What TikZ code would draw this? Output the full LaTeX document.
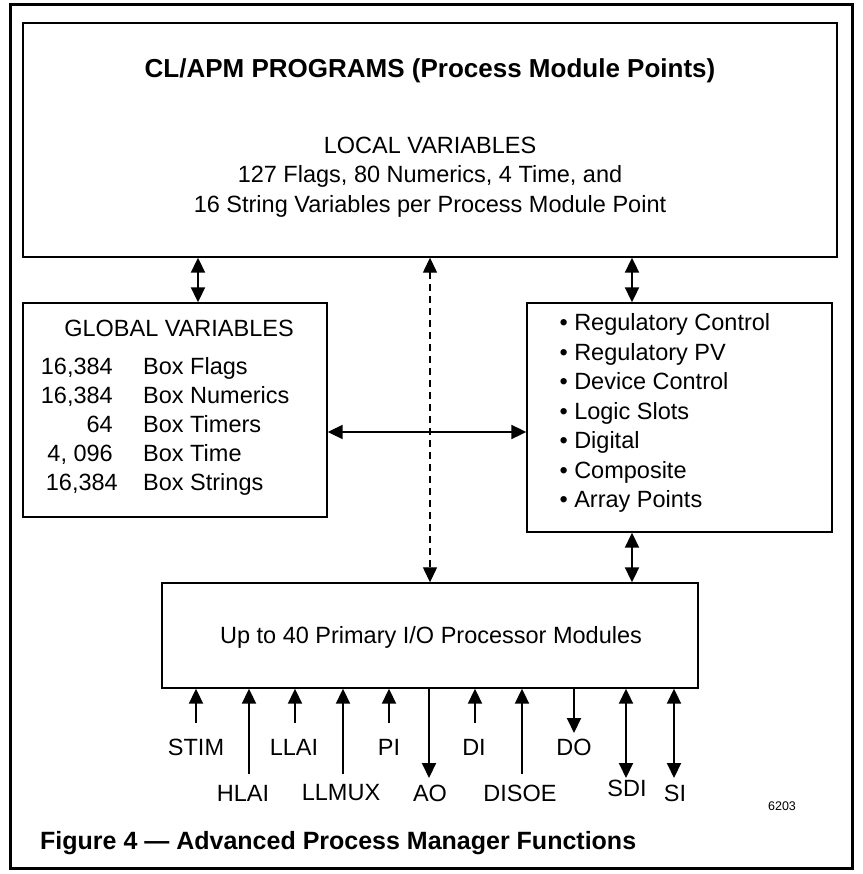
\documentclass[tikz,border=0pt]{standalone}
\usepackage{fontspec}
\setmainfont{Liberation Sans}
\usetikzlibrary{arrows.meta}

\begin{document}
\begin{tikzpicture}[x=1pt, y=-1pt,
    box/.style={draw, line width=1.4pt},
    txt/.style={font=\fontsize{23.5}{29.5}\selectfont},
    row/.style={txt, inner sep=0pt},
    link/.style={line width=2pt, {Triangle[length=15pt,width=14pt]}-{Triangle[length=15pt,width=14pt]}},
    inio/.style={line width=2pt, -{Triangle[length=15pt,width=14pt]}},
    outio/.style={line width=2pt, -{Triangle[length=15pt,width=14pt]}}]
        \useasboundingbox (0,0) rectangle (862,874);
        \draw[line width=3pt] (10.5,4.5) rectangle (852,868.5);
        % Boxes
        \node (top) at (430,140) [box, minimum width=814pt, minimum height=234pt] {};
        \node (glob) at (175,410) [box, minimum width=304pt, minimum height=214pt] {};
        \node (fn) at (679.5,417.5) [box, minimum width=305pt, minimum height=229pt] {};
        \node (io) at (430,635.5) [box, minimum width=536pt, minimum height=105pt] {};
        % Texts
        \node (title) at (430,71) [font=\bfseries\fontsize{26}{30}\selectfont] {CL/APM PROGRAMS (Process Module Points)};
        \node (local) at (430,177) [txt, align=center] {LOCAL VARIABLES\\127 Flags, 80 Numerics, 4 Time, and\\16 String Variables per Process Module Point};
        \node (gtitle) at (179,328) [txt] {GLOBAL VARIABLES};
        \node (n1) at (113,374.5) [row, anchor=base east] {16,384};
        \node (b1) at (143,374.5) [row, anchor=base west] {Box Flags};
        \node (n2) at (113,403.5) [row, anchor=base east] {16,384};
        \node (b2) at (143,403.5) [row, anchor=base west] {Box Numerics};
        \node (n3) at (113,432) [row, anchor=base east] {64};
        \node (b3) at (143,432) [row, anchor=base west] {Box Timers};
        \node (n4) at (113,461.5) [row, anchor=base east] {4, 096};
        \node (b4) at (143,461.5) [row, anchor=base west] {Box Time};
        \node (n5) at (118,490.5) [row, anchor=base east] {16,384};
        \node (b5) at (143,490.5) [row, anchor=base west] {Box Strings};
        \node (items) at (556,413) [txt, anchor=west, align=left] {\textbullet\ Regulatory Control\\\textbullet\ Regulatory PV\\\textbullet\ Device Control\\\textbullet\ Logic Slots\\\textbullet\ Digital\\\textbullet\ Composite\\\textbullet\ Array Points};
        \node (iotext) at (431,637) [txt] {Up to 40 Primary I/O Processor Modules};
        % Links between boxes
        \coordinate (lx) at (198,0);
        \coordinate (rx) at (632,0);
        \coordinate (hy) at (0,432);
        \draw[link] (lx |- top.south) -- (lx |- glob.north);
        \draw[link] (rx |- top.south) -- (rx |- fn.north);
        \draw[link, dash pattern=on 7pt off 5pt, line width=1.3pt] (top.south) -- (top.south |- io.north);
        \draw[link] (glob.east |- hy) -- (fn.west |- hy);
        \draw[link] (rx |- fn.south) -- (rx |- io.north);
        % I/O signals
        \coordinate (stim) at (196,723);
        \coordinate (hlai) at (249,774);
        \coordinate (llai) at (295,723);
        \coordinate (llmux) at (343,774);
        \coordinate (pi) at (389,723);
        \coordinate (ao) at (429,778);
        \coordinate (di) at (475,723);
        \coordinate (disoe) at (522,774);
        \coordinate (do) at (574,733);
        \coordinate (sdi) at (626,778);
        \coordinate (si) at (674,778);
        \draw[inio] (stim) -- (stim |- io.south);
        \draw[inio] (hlai) -- (hlai |- io.south);
        \draw[inio] (llai) -- (llai |- io.south);
        \draw[inio] (llmux) -- (llmux |- io.south);
        \draw[inio] (pi) -- (pi |- io.south);
        \draw[outio] (ao |- io.south) -- (ao);
        \draw[inio] (di) -- (di |- io.south);
        \draw[inio] (disoe) -- (disoe |- io.south);
        \draw[outio] (do |- io.south) -- (do);
        \draw[link] (sdi |- io.south) -- (sdi);
        \draw[link] (si |- io.south) -- (si);
        \node (lstim) at (196,747) [txt] {STIM};
        \node (lhlai) at (243,793) [txt] {HLAI};
        \node (lllai) at (294,747) [txt] {LLAI};
        \node (lllmux) at (341,793) [txt] {LLMUX};
        \node (lpi) at (389,747) [txt] {PI};
        \node (lao) at (430,793) [txt] {AO};
        \node (ldi) at (474,747) [txt] {DI};
        \node (ldisoe) at (520,793) [txt] {DISOE};
        \node (ldo) at (574,747) [txt] {DO};
        \node (lsdi) at (627,788) [txt] {SDI};
        \node (lsi) at (675,793) [txt] {SI};
        \node (fig) at (782,806) [font=\fontsize{12.5}{14}\selectfont] {6203};
        % Caption
        \node (caption) at (40,843) [anchor=west, inner sep=0pt, font=\bfseries\fontsize{25}{29}\selectfont] {Figure 4 — Advanced Process Manager Functions};
    \end{tikzpicture}
\end{document}
